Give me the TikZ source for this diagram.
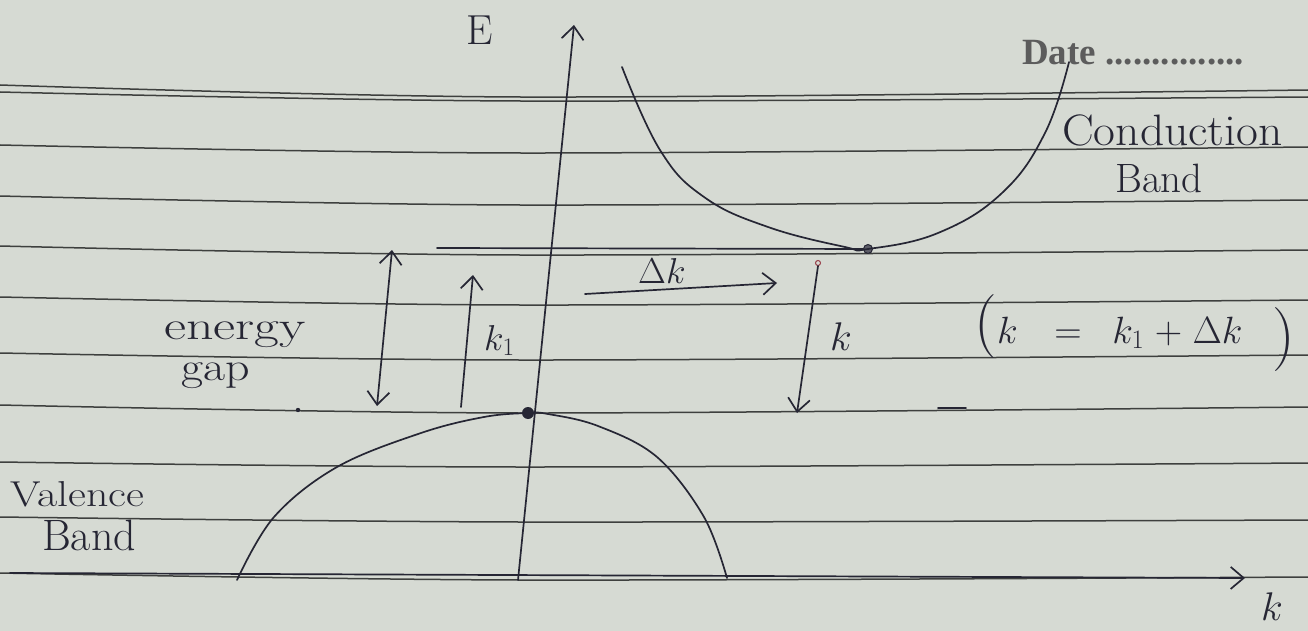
\documentclass[tikz,border=0pt]{standalone}
\usepackage{fix-cm}
\usepackage{fontspec}
\newfontfamily\datefont{Liberation Serif}
\usetikzlibrary{arrows.meta}
\definecolor{paper}{RGB}{214,218,211}
\definecolor{ink}{RGB}{38,38,52}
\definecolor{ruleink}{RGB}{62,64,62}
\definecolor{dateink}{RGB}{92,92,92}
\definecolor{redink}{RGB}{150,60,70}
\newcommand\myxs[2]{\scalebox{#1}[1]{#2}}
\newcommand\fs[1]{\fontsize{#1}{#1}\selectfont}
\begin{document}
\begin{tikzpicture}[x=1pt,y=-1pt,
  ruled/.style={ruleink, line width=1.5pt},
  inkline/.style={ink, line width=1.7pt, line cap=round, line join=round},
  barb/.tip={Straight Barb[length=13pt,width=22pt,line width=1.7pt]},
  hand/.style={ink, inner sep=0pt},
]
\useasboundingbox (0,0) rectangle (1308,631);
\fill[paper] (0,0) rectangle (1308,631);

% ruled notebook lines
\foreach \a/\b/\c in {85/97/90, 92/101/97, 145/153/147, 196/205/200, 246/255/250,
                      297/305/300, 353/360/355, 405/413/407, 462/467/463, 517/522/520, 573/580/577}
  \draw[ruled] plot[smooth] coordinates {(0,\a) (520,\b) (1308,\c)};

% printed date field
\node[dateink, font=\datefont\bfseries\fs{37}, inner sep=0pt, anchor=base west]
  (date) at (1022,65) {Date ...............};

% axes
\coordinate (Ebot) at (518,580);
\coordinate (Etop) at (574,25);
\draw[inkline, -barb] (Ebot) -- (Etop);
\node[hand, font=\fs{42}] (Elab) at (480,30) {E};

\coordinate (kleft) at (10,573);
\coordinate (kright) at (1245,578);
\draw[inkline, -barb] (kleft) -- (kright);
\node[hand, font=\fs{40}] (klab) at (1272,607) {$k$};

% valence band
\node[circle, fill=ink, minimum size=12pt, inner sep=0pt] (vtop) at (528,413) {};
\draw[inkline] plot[smooth, tension=0.6] coordinates
  {(237,580) (274,517) (337,467) (421,433) (484,417) (528,413) (548,414) (598,426) (657,457) (704,517) (727,578)};

% conduction band
\node[circle, draw=ink, fill=ink!75, line width=1pt, minimum size=9pt, inner sep=0pt] (cmin) at (868,249) {};
\draw[inkline] plot[smooth, tension=0.7] coordinates
  {(622,67) (660,150) (704,197) (768,227) (845,247) (868,249) (938,233) (1002,193) (1045,133) (1069,62)};

% level of the conduction band minimum
\coordinate (lvl) at (437,248);
\draw[inkline] (lvl) -- (cmin);

% energy gap arrow
\coordinate (gapT) at (392,250);
\coordinate (gapB) at (377,406);
\draw[inkline, barb-barb] (gapB) -- (gapT);

% k1 arrow
\coordinate (k1B) at (461,407);
\coordinate (k1T) at (473,275);
\draw[inkline, -barb] (k1B) -- (k1T);
\node[hand, font=\fs{36}, anchor=base west] (k1lab) at (484,350) {$k_{1}$};

% Delta k arrow
\coordinate (dkL) at (585,294);
\coordinate (dkR) at (777,283);
\draw[inkline, -barb] (dkL) -- (dkR);
\node[hand, font=\fs{36}, anchor=base west] (dklab) at (638,283) {$\Delta k$};

% k arrow
\node[circle, draw=redink, line width=1pt, minimum size=5pt, inner sep=0pt] (ktop) at (818,263) {};
\coordinate (kB) at (797,413);
\draw[inkline, -barb] (ktop.south) -- (kB);
\node[hand, font=\fs{40}, anchor=base west] (klab2) at (830,350) {$k$};

% relation
\node[hand, font=\fs{64}] (lpar) at (986,327) {(};
\node[hand, font=\fs{64}] (rpar) at (1284,340) {)};
\node[hand, font=\fs{38}, anchor=base west] (rel) at (997,343)
  {$k\hspace{26pt}=\hspace{20pt}k_{1}\hspace{2pt}+\hspace{2pt}\Delta k$};

% labels
\node[hand, font=\fs{40}, anchor=base west] (en) at (164,339) {\myxs{1.35}{energy}};
\node[hand, font=\fs{40}, anchor=base west] (gap) at (181,380) {\myxs{1.2}{gap}};
\node[hand, font=\fs{36}, anchor=base west] (val) at (10,506) {\myxs{1.22}{Valence}};
\node[hand, font=\fs{44}, anchor=base west] (vband) at (42,550) {Band};
\node[hand, font=\fs{44}, anchor=base west] (cond) at (1062,146) {\myxs{1.08}{Conduction}};
\node[hand, font=\fs{41}, anchor=base west] (cband) at (1115,193) {Band};

% stray pen marks
\draw[inkline] (938,408) -- (966,408);
\fill[ink] (298,410) circle (2.2pt);
\end{tikzpicture}
\end{document}
